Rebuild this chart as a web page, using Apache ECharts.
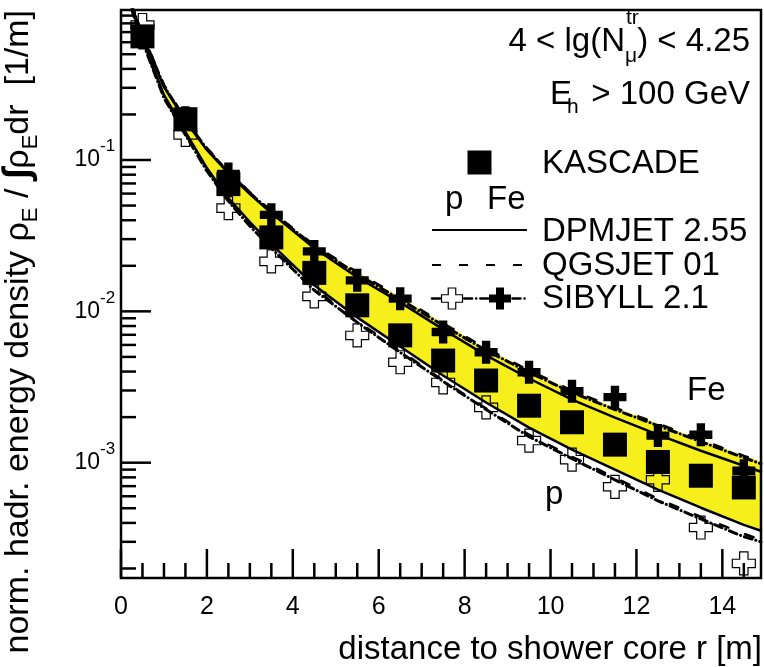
<!DOCTYPE html>
<html><head><meta charset="utf-8">
<script src="https://cdn.jsdelivr.net/npm/echarts@6/dist/echarts.min.js"></script>
<style>html,body{margin:0;padding:0;background:#fff}#c{width:764px;height:667px}</style>
</head><body><div id="c"></div>
<script>
// ---- data ----
const rBins = [0.5,1.5,2.5,3.5,4.5,5.5,6.5,7.5,8.5,9.5,10.5,11.5,12.5,13.5,14.5];
const kascade = [0.656,0.186,0.0693,0.0308,0.01795,0.01096,0.00694,0.00473,0.00349,0.00238,0.00185,0.001316,0.001011,0.00082,0.000686];
const sibyllFeMarks = [0.64,0.19,0.0808,0.0434,0.0249,0.01603,0.01213,0.0073,0.00537,0.00396,0.00297,0.00271,0.00151,0.00153,0.000885];
const sibyllPMarks = [0.78,0.1466,0.0481,0.0214,0.01256,0.00693,0.00461,0.00339,0.00232,0.0014,0.001047,0.000693,0.000771,0.000373,0.000216];

const rCurve = [0.25,0.5,1,1.5,2,2.5,3,3.5,4.5,5.5,6.5,7.5,8.5,9.5,10.5,11.5,12.5,13.5,14.5,14.9];
const dpmjetFe = [1.031,0.663,0.304,0.1812,0.1165,0.082,0.0596,0.0446,0.02614,0.01679,0.01147,0.0076,0.00512,0.0036,0.00261,0.001986,0.001532,0.001199,0.000955,0.000871];
const qgsjetFe = [1.06,0.683,0.314,0.187,0.12,0.0846,0.0614,0.0459,0.02735,0.01812,0.01239,0.00833,0.00569,0.00407,0.003,0.00231,0.00181,0.00142,0.00111,0.001016];
const sibyllFe = [1.047,0.673,0.309,0.184,0.1183,0.0833,0.0605,0.0453,0.02694,0.01758,0.01201,0.00807,0.00552,0.00395,0.00291,0.002244,0.001757,0.001377,0.001079,0.000984];
const dpmjetP = [1.015,0.623,0.2694,0.1532,0.0885,0.056,0.0389,0.0278,0.01486,0.00912,0.00586,0.00377,0.0025,0.001705,0.001219,0.000899,0.000663,0.000504,0.000388,0.000355];
const qgsjetP = [1.0,0.614,0.2613,0.1487,0.0859,0.0543,0.0377,0.0269,0.01419,0.00859,0.00552,0.00349,0.00228,0.00153,0.001096,0.000796,0.000578,0.000439,0.000339,0.000309];
const sibyllP = [0.985,0.605,0.2574,0.1464,0.0846,0.0535,0.0366,0.02614,0.01377,0.00845,0.00535,0.00344,0.002244,0.001486,0.001063,0.000771,0.00056,0.000425,0.000324,0.0003];

// ---- axes ----
const xMin = 0, xMax = 14.9, yMin = 1.73e-4, yMax = 0.98;
const xMajorTicks = [0,2,4,6,8,10,12,14];
const xTickLabels = ['0','2','4','6','8','10','12','14'];
const xMinorTicks = [];
for (let v = 0.5; v <= xMax; v += 0.5) if (v % 2 !== 0) xMinorTicks.push(v);
const yMajorTicks = [1e-3,1e-2,1e-1];
const yTickExponents = ['-3','-2','-1'];
const yMinorTicks = [];
for (let d = -4; d <= -1; d++) for (let m = 2; m <= 9; m++) { const v = m * Math.pow(10, d); if (v > yMin && v < yMax) yMinorTicks.push(v); }

// ---- style ----
const FONT = '"Liberation Sans", Arial, Helvetica, sans-serif';
const BAND = '#f6ef1c';
const CROSS = 'path://M7,0H15V7H22V15H15V22H7V15H0V7H7Z';
const DASH = [9, 18];
const DASHDOT = [8, 4, 0.1, 4];

function pairs(xs, ys) { return xs.map((x, i) => [x, ys[i]]); }
function lineSeries(name, ys, type, width) {
  return { name, type: 'line', data: pairs(rCurve, ys), showSymbol: false, symbol: 'none', z: 2, silent: true,
    lineStyle: { color: '#000', width: width, type: type, cap: 'round' }, clip: true };
}
function crossPts(cx, cy, s, w) {
  const h = s / 2, k = w / 2;
  return [[cx-k,cy-h],[cx+k,cy-h],[cx+k,cy-k],[cx+h,cy-k],[cx+h,cy+k],[cx+k,cy+k],[cx+k,cy+h],[cx-k,cy+h],[cx-k,cy+k],[cx-h,cy+k],[cx-h,cy-k],[cx-k,cy-k]];
}
function txt(x, y, text, size, align, extra) {
  return Object.assign({ type: 'text', x, y, z: 20, silent: true,
    style: { text, fontFamily: FONT, fontSize: size, fill: '#000', align: align || 'left', verticalAlign: 'middle' } }, extra || {});
}
function tText(x, y, text, size, align) {
  return { type: 'text', x, y, style: { text, fontFamily: FONT, fontSize: size, fill: '#000', align, verticalAlign: 'middle' } };
}

const chart = echarts.init(document.getElementById('c'), null, { renderer: 'canvas' });
const option = {
  animation: false,
  backgroundColor: '#fff',
  grid: { left: 121, right: 3, top: 10, bottom: 89, show: false, outerBoundsMode: 'none', containLabel: false },
  xAxis: {
    type: 'value', min: xMin, max: xMax, interval: 2,
    axisLine: { show: false }, axisTick: { show: false }, splitLine: { show: false }, axisLabel: { show: false }
  },
  yAxis: {
    type: 'log', logBase: 10, min: yMin, max: yMax,
    axisLine: { show: false }, axisTick: { show: false }, splitLine: { show: false }, minorTick: { show: false }, axisLabel: { show: false }
  },
  series: [
    { type: 'custom', name: 'band', coordinateSystem: 'cartesian2d', data: [[1, 0.01]], z: 1, silent: true, clip: true,
      renderItem(params, api) {
        const top = rCurve.map((x, i) => api.coord([x, qgsjetFe[i]]));
        const bot = rCurve.map((x, i) => api.coord([x, dpmjetP[i]])).reverse();
        const cs = params.coordSys;
        return { type: 'polygon', shape: { points: top.concat(bot) }, style: { fill: BAND, stroke: null },
          clipPath: { type: 'rect', shape: { x: cs.x, y: cs.y, width: cs.width, height: cs.height } } };
      } },
    lineSeries('DPMJET Fe', dpmjetFe, 'solid', 2.5),
    lineSeries('DPMJET p', dpmjetP, 'solid', 2.5),
    lineSeries('QGSJET Fe', qgsjetFe, DASH, 2.5),
    lineSeries('QGSJET p', qgsjetP, DASH, 2.5),
    lineSeries('SIBYLL Fe', sibyllFe, DASHDOT, 3),
    lineSeries('SIBYLL p', sibyllP, DASHDOT, 3),
    { type: 'scatter', name: 'SIBYLL p marks', data: pairs(rBins, sibyllPMarks), symbol: CROSS, symbolSize: 23, z: 3, silent: true,
      itemStyle: { color: 'rgba(255,255,255,0)', borderColor: '#000', borderWidth: 1.2, opacity: 1 } },
    { type: 'scatter', name: 'SIBYLL Fe marks', data: pairs(rBins, sibyllFeMarks), symbol: CROSS, symbolSize: 23, z: 4, silent: true,
      itemStyle: { color: '#000', opacity: 1 } },
    { type: 'scatter', name: 'KASCADE', data: pairs(rBins, kascade), symbol: 'rect', symbolSize: 24, z: 5, silent: true,
      itemStyle: { color: '#000', opacity: 1 } },
    { type: 'custom', name: 'axes', coordinateSystem: 'cartesian2d', data: [[1, 0.01]], z: 6, silent: true, clip: false,
      renderItem(params, api) {
        const cs = params.coordSys;
        const kids = [];
        const L = (x1, y1, x2, y2) => kids.push({ type: 'line', shape: { x1, y1, x2, y2 }, style: { stroke: '#000', lineWidth: 2.5 } });
        xMajorTicks.forEach((v, i) => {
          const p = api.coord([v, yMin]);
          L(p[0], p[1], p[0], p[1] - 29);
          kids.push(tText(p[0], p[1] + 29, xTickLabels[i], 25, 'center'));
        });
        xMinorTicks.forEach(v => { const p = api.coord([v, yMin]); L(p[0], p[1], p[0], p[1] - 15); });
        yMajorTicks.forEach((v, i) => {
          const p = api.coord([xMin, v]);
          L(p[0], p[1], p[0] + 30, p[1]);
          kids.push(tText(p[0] - 21, p[1], '10', 23, 'right'));
          kids.push(tText(p[0] - 21, p[1] - 13.5, yTickExponents[i], 17, 'left'));
        });
        yMinorTicks.forEach(v => { const p = api.coord([xMin, v]); L(p[0], p[1], p[0] + 15, p[1]); });
        kids.push({ type: 'rect', shape: { x: cs.x, y: cs.y, width: cs.width, height: cs.height }, style: { fill: null, stroke: '#000', lineWidth: 2.5 } });
        return { type: 'group', children: kids };
      } }
  ],
  graphic: [
    // annotations
    txt(625, 41.6, '4 < lg(N', 33, 'right'),
    txt(626, 18, 'tr', 21, 'left'),
    txt(625, 56, 'μ', 21, 'left'),
    txt(750, 41.6, ') < 4.25', 33, 'right'),
    txt(550, 94.6, 'E', 33, 'left'),
    txt(567, 107.7, 'h', 21, 'left'),
    txt(750, 94.6, '> 100 GeV', 33, 'right'),
    // legend
    { type: 'rect', z: 20, silent: true, shape: { x: 467.5, y: 150.5, width: 24, height: 24 }, style: { fill: '#000' } },
    txt(542, 163.6, 'KASCADE', 33, 'left'),
    txt(445, 200, 'p', 33, 'left'),
    txt(487, 200, 'Fe', 33, 'left'),
    { type: 'line', z: 20, silent: true, shape: { x1: 432, y1: 230, x2: 527, y2: 230 }, style: { stroke: '#000', lineWidth: 2 } },
    txt(542, 232, 'DPMJET 2.55', 33, 'left'),
    { type: 'line', z: 20, silent: true, shape: { x1: 432, y1: 265, x2: 527, y2: 265 }, style: { stroke: '#000', lineWidth: 2, lineDash: DASH } },
    txt(542, 265.6, 'QGSJET 01', 33, 'left'),
    { type: 'line', z: 20, silent: true, shape: { x1: 432, y1: 298.5, x2: 527, y2: 298.5 }, style: { stroke: '#000', lineWidth: 2.5, lineDash: DASHDOT, lineCap: 'round' } },
    { type: 'polygon', z: 21, silent: true, shape: { points: crossPts(452, 298.5, 21, 7.5) }, style: { fill: '#fff', stroke: '#000', lineWidth: 1.2 } },
    { type: 'polygon', z: 21, silent: true, shape: { points: crossPts(500, 298.5, 22, 8) }, style: { fill: '#000' } },
    txt(542, 299, 'SIBYLL 2.1', 33, 'left'),
    // curve labels
    txt(687, 390.6, 'Fe', 33, 'left'),
    txt(545, 495, 'p', 33, 'left'),
    // axis titles
    txt(762, 649.6, 'distance to shower core r [m]', 33, 'right'),
    { type: 'text', x: 19, y: 10, rotation: Math.PI / 2, z: 20, silent: true,
      style: { text: '{m|norm. hadr. energy density }{m|ρ}{s|E}{m| / }{i|∫}{m|ρ}{s|E}{m|dr  [1/m]}',
        align: 'right', verticalAlign: 'middle', fill: '#000', fontFamily: FONT, fontSize: 34,
        rich: {
          m: { fontFamily: FONT, fontSize: 34, lineHeight: 46, fill: '#000' },
          s: { fontFamily: FONT, fontSize: 22, lineHeight: 22, verticalAlign: 'bottom', fill: '#000' },
          i: { fontFamily: FONT, fontSize: 38, lineHeight: 46, fontWeight: 'bold', fill: '#000' }
        } } }
  ]
};
chart.setOption(option);
</script>
</body></html>
